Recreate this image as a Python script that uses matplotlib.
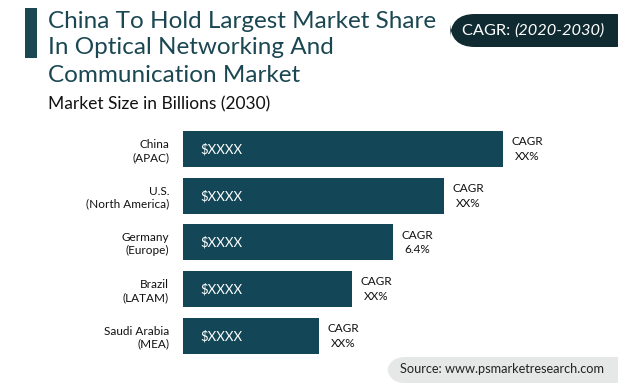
import matplotlib.pyplot as plt
from matplotlib.patches import FancyBboxPatch, Rectangle

# data (bar lengths, arbitrary units)
regions = ["China\n(APAC)", "U.S.\n(North America)", "Germany\n(Europe)",
           "Brazil\n(LATAM)", "Saudi Arabia\n(MEA)"]
sizes = [320, 261, 210, 169, 136]
bar_labels = ["$XXXX"] * 5
cagr = ["XX%", "XX%", "6.4%", "XX%", "XX%"]

BAR = "#134757"
DARK = "#0f2a30"
TITLE = "#1b4752"

plt.rcParams['font.family'] = ['Lato', 'DejaVu Sans']

W, H = 618, 391
fig = plt.figure(figsize=(W / 100, H / 100), dpi=100)
fig.patch.set_facecolor("white")


def fx(px):
    return px / W


def fy(py):
    return 1 - py / H


# title accent bar
fig.patches.append(Rectangle((fx(25), fy(58)), fx(12), 50 / H, transform=fig.transFigure,
                             facecolor=TITLE, edgecolor="none"))
fig.text(fx(48), fy(22), "China To Hold Largest Market Share", fontsize=17.5,
         color=TITLE, va="center", ha="left")
fig.text(fx(48), fy(48), "In Optical Networking And", fontsize=17.5,
         color=TITLE, va="center", ha="left")
fig.text(fx(48), fy(75), "Communication Market", fontsize=17.5,
         color=TITLE, va="center", ha="left")
fig.text(fx(48), fy(104), "Market Size in Billions (2030)", fontsize=12.5,
         color="#111111", va="center", ha="left")

# CAGR pill top right
fig.patches.append(FancyBboxPatch((fx(450), fy(47)), fx(190), 33 / H,
                                  boxstyle="round,pad=0,rounding_size=0.04",
                                  transform=fig.transFigure, facecolor=DARK,
                                  edgecolor="none", mutation_aspect=W / H))
fig.text(fx(514), fy(31), "CAGR: ", fontsize=11.8, color="white",
         va="center", ha="right")
fig.text(fx(514), fy(31), "(2020-2030)", fontsize=11.8, color="white",
         va="center", ha="left", style="italic")

# source box
fig.patches.append(FancyBboxPatch((fx(387), fy(383)), fx(250), 26 / H,
                                  boxstyle="round,pad=0,rounding_size=0.03",
                                  transform=fig.transFigure, facecolor="#e6e8e8",
                                  edgecolor="none", mutation_aspect=W / H))
fig.text(fx(400), fy(369), "Source: www.psmarketresearch.com", fontsize=9.2,
         color="#222222", va="center", ha="left")

# bars
ax = fig.add_axes([fx(183), fy(359.2), fx(360), 233.5 / H])
ypos = list(range(len(regions)))
ax.barh(ypos, sizes, height=0.77, color=BAR)
ax.set_xlim(0, 360)
ax.set_ylim(len(regions) - 0.5, -0.5)
ax.set_yticks(ypos)
ax.set_yticklabels(regions, fontsize=8.5, color="#111111")
ax.tick_params(axis="y", length=0, pad=10)
ax.set_xticks([])
for s in ax.spines.values():
    s.set_visible(False)
ax.patch.set_alpha(0)

for i, (v, lab, c) in enumerate(zip(sizes, bar_labels, cagr)):
    ax.text(17, i, lab, color="white", fontsize=9.5, va="center", ha="left")
    ax.text(v + 24, i, "CAGR\n" + c, color="#111111", fontsize=8.5,
            va="center", ha="center", linespacing=1.4)

fig.savefig("out.png", dpi=100)
